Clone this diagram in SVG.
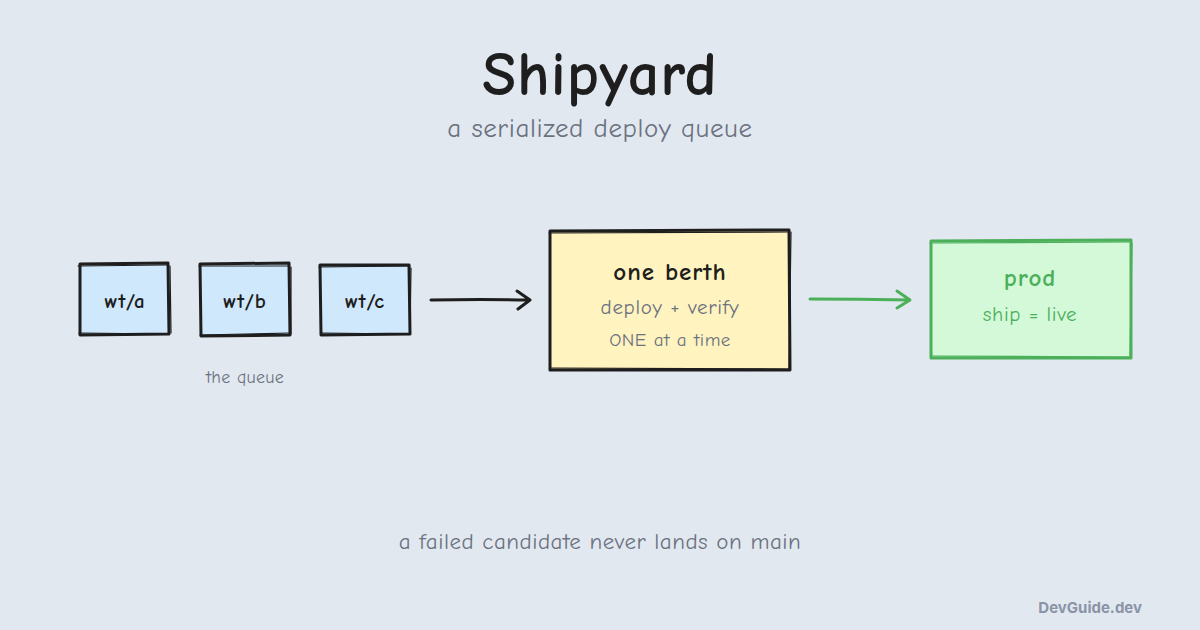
<svg xmlns="http://www.w3.org/2000/svg" width="1200" height="630" viewBox="0 0 1200 630">
<defs>
<style>
.hand{font-family:"Comic Neue","Comic Sans MS","Noto Sans",sans-serif}
.title{font-size:62px;font-weight:800;fill:#1e1e1e;letter-spacing:1px}
.sub{font-size:27px;fill:#6b7280;letter-spacing:0.6px}
.lbl{font-size:21px;font-weight:800;fill:#1e1e1e;letter-spacing:0.8px}
.note{font-size:18px;fill:#6b7280;letter-spacing:0.3px}
.q{fill:#d0e8fc;stroke:#1e1e1e;stroke-width:3;stroke-linejoin:round;stroke-linecap:round}
.berth{fill:#fff3bf;stroke:#1e1e1e;stroke-width:3;stroke-linejoin:round;stroke-linecap:round}
.prod{fill:#d3f9d8;stroke:#4caf5a;stroke-width:3;stroke-linejoin:round;stroke-linecap:round}
.sk{fill:none;stroke-width:1.2;stroke-linecap:round}
.wire{fill:none;stroke-width:3;stroke-linecap:round;stroke-linejoin:round}
</style>
</defs>
<rect width="1200" height="630" fill="#e2e8f0"/>
<text class="hand title" x="600" y="95" text-anchor="middle">Shipyard</text>
<text class="hand sub" x="600" y="137" text-anchor="middle">a serialized deploy queue</text>

<g id="node-wt-a">
<path class="q" d="M80 264 L168 263 L169 334 L80 335 Z"/>
<path class="sk" stroke="#1e1e1e" d="M78 266 L167 265 M170 266 L171 333 M79 333 L168 334"/>
<text class="hand lbl" x="125" y="308" text-anchor="middle">wt/a</text>
</g>
<g id="node-wt-b">
<path class="q" d="M200 264 L289 263 L290 335 L201 336 Z"/>
<path class="sk" stroke="#1e1e1e" d="M199 266 L289 266 M291 267 L291 334 M200 335 L290 333"/>
<text class="hand lbl" x="245" y="308" text-anchor="middle">wt/b</text>
</g>
<g id="node-wt-c">
<path class="q" d="M320 265 L409 265 L410 334 L321 335 Z"/>
<path class="sk" stroke="#1e1e1e" d="M319 267 L410 266 M411 268 L410 333 M321 333 L409 334"/>
<text class="hand lbl" x="365" y="308" text-anchor="middle">wt/c</text>
</g>
<text class="hand note" x="245" y="383" text-anchor="middle">the queue</text>

<g id="node-berth">
<path class="berth" d="M550 231 L789 230 L790 370 L550 370 Z"/>
<path class="sk" stroke="#1e1e1e" d="M549 233 L788 232 M791 232 L789 368 M551 368 L789 369"/>
<text class="hand" x="670" y="280" text-anchor="middle" font-size="25" font-weight="800" fill="#1e1e1e" letter-spacing="1">one berth</text>
<text class="hand" x="670" y="314" text-anchor="middle" font-size="21" fill="#6b7280" letter-spacing="0.7">deploy + verify</text>
<text class="hand" x="670" y="346" text-anchor="middle" font-size="19" fill="#6b7280" letter-spacing="0.5">ONE at a time</text>
</g>

<g id="node-prod">
<path class="prod" d="M931 241 L1131 240 L1131 358 L931 358 Z"/>
<path class="sk" stroke="#4caf5a" d="M930 243 L1130 242 M1132 243 L1130 356 M932 356 L1129 357"/>
<text class="hand" x="1030" y="286" text-anchor="middle" font-size="25" font-weight="800" fill="#4caf5a" letter-spacing="1">prod</text>
<text class="hand" x="1030" y="321" text-anchor="middle" font-size="21" fill="#4caf5a" letter-spacing="0.6">ship = live</text>
</g>

<g id="connectors">
<path class="wire" stroke="#1e1e1e" d="M431 300 Q480 299 529 300 M517 291 L530 300 L518 309"/>
<path class="wire" stroke="#4caf5a" d="M810 299 Q860 299 909 300 M897 291 L910 300 L897 308"/>
</g>

<text class="hand" x="600" y="549" text-anchor="middle" font-size="23" fill="#6b7280" letter-spacing="0.5">a failed candidate never lands on main</text>
<text x="1142" y="613" text-anchor="end" font-family="Inter,'Liberation Sans',sans-serif" font-size="15" font-weight="700" fill="#8a94a6">DevGuide.dev</text>
</svg>
